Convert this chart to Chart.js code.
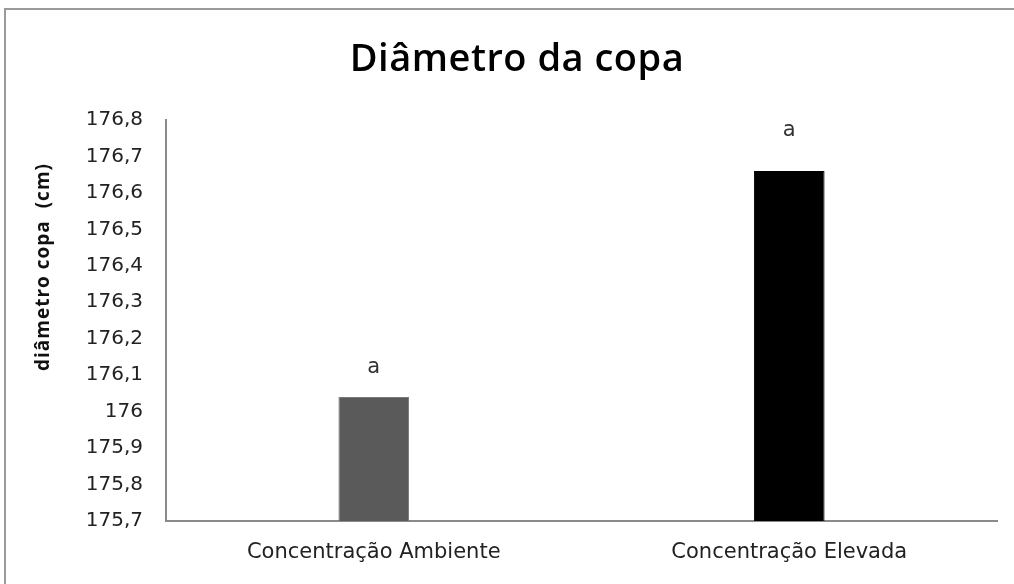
<!DOCTYPE html>
<html>
<head>
<meta charset="utf-8">
<script src="https://cdn.jsdelivr.net/npm/chart.js@4"></script>
<style>
  body { margin: 0; background: #fff; }
  canvas { display: block; }
</style>
</head>
<body>
<canvas id="copaChart" width="1014" height="584"></canvas>
<script>
// data
const categories = ['Concentração Ambiente', 'Concentração Elevada'];
const diametro = [176.04, 176.66];
const letras = ['a', 'a'];
const barColors = ['#5a5a5a', '#000000'];
const yTicks = { min: 175.7, max: 176.8, step: 0.1 };

// title, y-axis title, letters over bars and the outer frame
const extrasPlugin = {
    id: 'extras',
    beforeDraw(chart) {
        const ctx = chart.ctx;
        ctx.save();
        ctx.strokeStyle = '#9a9a9a';
        ctx.lineWidth = 2;
        ctx.beginPath();
        ctx.moveTo(5, 600);
        ctx.lineTo(5, 9);
        ctx.lineTo(1014, 9);
        ctx.stroke();
        ctx.restore();
    },
    afterDraw(chart, args, opts) {
        const ctx = chart.ctx;
        ctx.save();
        ctx.fillStyle = '#000';
        ctx.textAlign = 'center';
        ctx.textBaseline = 'middle';
        ctx.font = '600 38px "Open Sans"';
        ctx.letterSpacing = '0.5px';
        ctx.fillText('Diâmetro da copa', 517, 60);

        ctx.translate(44, 267);
        ctx.rotate(-Math.PI / 2);
        ctx.font = 'bold 19px "Open Sans"';
        ctx.letterSpacing = '1px';
        ctx.fillStyle = '#111';
        ctx.fillText('diâmetro copa  (cm)', 0, 0);
        ctx.restore();

        ctx.save();
        ctx.font = '21px "DejaVu Sans"';
        ctx.fillStyle = '#333';
        ctx.textAlign = 'center';
        ctx.textBaseline = 'middle';
        chart.getDatasetMeta(0).data.forEach((bar, i) => {
            ctx.fillText(letras[i], bar.x, bar.y - opts.offsets[i]);
        });
        ctx.restore();
    }
};

new Chart(document.getElementById('copaChart'), {
    type: 'bar',
    data: {
        labels: categories,
        datasets: [{
            data: diametro,
            backgroundColor: barColors,
            borderColor: ['#7a7a7a', '#000000'],
            borderWidth: 1,
            barPercentage: 0.17,
            categoryPercentage: 1.0
        }]
    },
    options: {
        responsive: false,
        animation: false,
        layout: { padding: { top: 120, right: 17, left: 0, bottom: 0 } },
        plugins: {
            legend: { display: false },
            title: { display: false },
            tooltip: { enabled: false },
            extras: { offsets: [30, 40] }
        },
        scales: {
            y: {
                min: yTicks.min,
                max: yTicks.max,
                afterFit(scale) { scale.width = 166; },
                grid: { display: false, drawTicks: false },
                border: { display: true, color: '#8a8a8a', width: 2 },
                ticks: {
                    stepSize: yTicks.step,
                    padding: 23,
                    color: '#222',
                    font: { family: 'DejaVu Sans', size: 20 },
                    callback: v => String(Number(v.toFixed(1))).replace('.', ',')
                }
            },
            x: {
                afterFit(scale) { scale.height = 63; },
                grid: { display: false, drawTicks: false },
                border: { display: true, color: '#8a8a8a', width: 2 },
                ticks: {
                    padding: 19,
                    color: '#222',
                    font: { family: 'DejaVu Sans', size: 21 }
                }
            }
        }
    },
    plugins: [extrasPlugin]
});
</script>
</body>
</html>
